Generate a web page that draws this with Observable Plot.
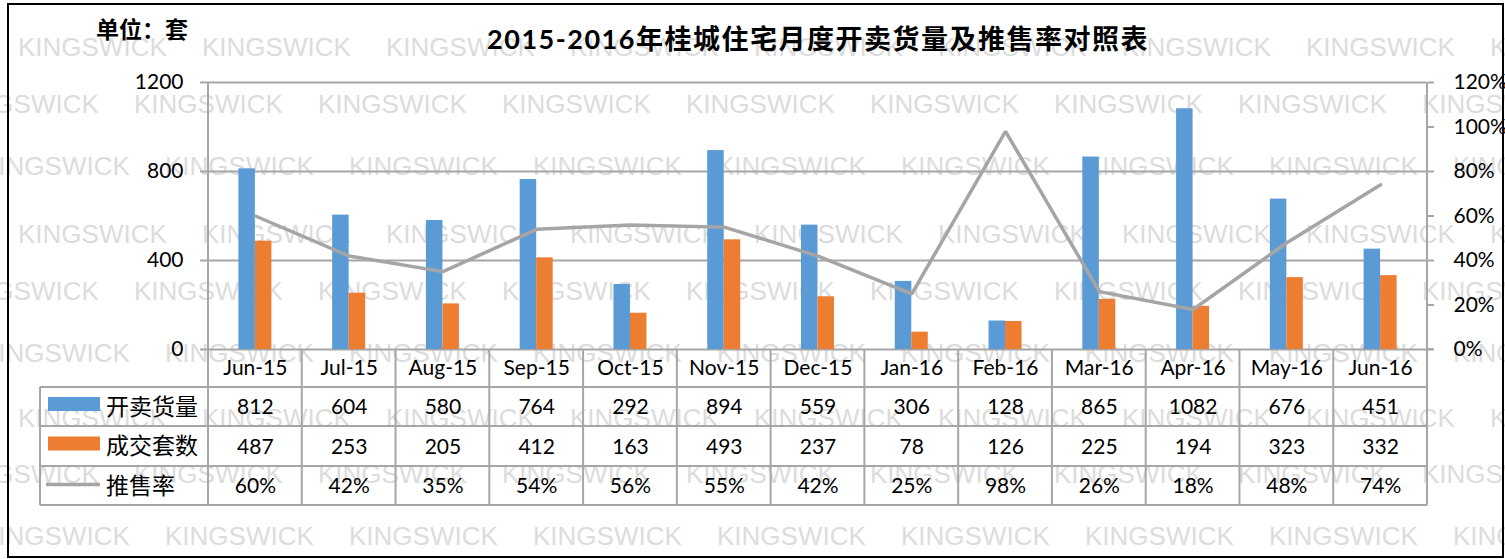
<!DOCTYPE html>
<html><head><meta charset="utf-8">
<script src="https://cdn.jsdelivr.net/npm/d3@7"></script>
<script src="https://cdn.jsdelivr.net/npm/@observablehq/plot@0.6"></script>
<style>
body{margin:0;background:#fff}
#wrap{position:relative;width:1505px;height:559px;overflow:hidden;background:#fff}
</style></head><body><div id="wrap"></div>
<script>
// ---- data ----
const months = ["Jun-15","Jul-15","Aug-15","Sep-15","Oct-15","Nov-15","Dec-15","Jan-16","Feb-16","Mar-16","Apr-16","May-16","Jun-16"];
const supply = [812,604,580,764,292,894,559,306,128,865,1082,676,451];
const deals  = [487,253,205,412,163,493,237,78,126,225,194,323,332];
const rates  = [60,42,35,54,56,55,42,25,98,26,18,48,74]; // percent
const leftTicks = [0,400,800,1200];
const rightTicks = [0,20,40,60,80,100,120]; // percent
const seriesNames = ["开卖货量","成交套数","推售率"];
const titleText = "2015-2016年桂城住宅月度开卖货量及推售率对照表";
const unitText = "单位：套";
const watermarkText = "KINGSWICK";

const colors = {supply:"#5b9bd5", deals:"#ed7d31", rate:"#a5a5a5", grid:"#a6a6a6"};
const rows = months.map((m,i)=>({month:m, supply:supply[i], deals:deals[i], rate:rates[i]}));

// ---- layout ----
const W = 1505, H = 559;
const mL = 208, mR = 78, mT = 82, mB = 210;
const step = (W - mL - mR) / months.length;
const barW = 16.5;
const leftMax = 1200, rightMax = 120;
const toLeft = p => p * leftMax / rightMax;
const tableText = {frameAnchor: "bottom", lineAnchor: "middle", fontSize: 21};

const plot = Plot.plot({
  width: W, height: H,
  marginLeft: mL, marginRight: mR, marginTop: mT, marginBottom: mB,
  style: {fontFamily: "Lato, 'Noto Sans CJK SC', sans-serif", fontSize: "20px", color: "#000", background: "transparent", overflow: "visible"},
  x: {type: "band", domain: months, padding: 0, round: false, axis: null},
  y: {domain: [0, leftMax], axis: null},
  marks: [
    Plot.ruleY(leftTicks, {stroke: colors.grid, strokeWidth: 2}),
    Plot.axisY({anchor: "left", ticks: leftTicks, tickFormat: d => String(d), tickSize: 8, tickPadding: 17, stroke: colors.grid, strokeWidth: 2, fill: "#000", fontSize: 21}),
    Plot.axisY({anchor: "right", ticks: rightTicks.map(toLeft), tickFormat: d => (d * rightMax / leftMax) + "%", tickSize: 6, tickPadding: 20, stroke: colors.grid, strokeWidth: 2, fill: "#000", fontSize: 21}),
    Plot.barY(rows, {x: "month", y: "supply", fill: colors.supply, insetLeft: step/2 - barW, insetRight: step/2}),
    Plot.barY(rows, {x: "month", y: "deals", fill: colors.deals, insetLeft: step/2, insetRight: step/2 - barW}),
    Plot.line(rows, {x: "month", y: d => toLeft(d.rate), stroke: colors.rate, strokeWidth: 3.5, strokeLinejoin: "miter"}),
    // data table text
    Plot.text(months, {x: d => d, text: d => d, dy: 19, ...tableText}),
    Plot.text(rows, {x: "month", text: d => String(d.supply), dy: 58, ...tableText}),
    Plot.text(rows, {x: "month", text: d => String(d.deals), dy: 98, ...tableText}),
    Plot.text(rows, {x: "month", text: d => d.rate + "%", dy: 137, ...tableText})
  ]
});

const svg = d3.select(plot);
const xs = plot.scale("x"), ys = plot.scale("y");
const x0 = xs.range[0], x1 = xs.range[1];
const yTop = ys.apply(leftMax), yBase = ys.apply(0);

// watermark (behind everything)
const wm = svg.insert("g", ":first-child")
  .attr("font-family", "'Liberation Sans', Arial, sans-serif")
  .attr("text-anchor", "start")
  .attr("font-size", 26).attr("fill", "#dcdcdc");
const wmRows = [56,113,175,243,300,362,427,483,545];
const wmOff = [18,-50,-19];
wmRows.forEach((y, r) => {
  for (let x = wmOff[r % 3]; x < W; x += 184) {
    wm.append("text").attr("x", x).attr("y", y).text(watermarkText);
  }
});

// axis lines
const g = svg.append("g").attr("stroke", colors.grid).attr("stroke-width", 2).attr("fill", "none");
g.append("line").attr("x1", x0).attr("x2", x0).attr("y1", yTop).attr("y2", yBase);
g.append("line").attr("x1", x1).attr("x2", x1).attr("y1", yTop).attr("y2", yBase);
g.append("line").attr("x1", x1).attr("x2", x1 + 6).attr("y1", yBase).attr("y2", yBase);

// data table grid
const rowEdges = [yBase + 38, yBase + 77, yBase + 117, yBase + 156];
const tableLeft = 40;
rowEdges.forEach(y => g.append("line").attr("x1", tableLeft).attr("x2", x1).attr("y1", y).attr("y2", y));
months.forEach((m, i) => {
  const x = xs.apply(m);
  g.append("line").attr("x1", x).attr("x2", x).attr("y1", yBase).attr("y2", rowEdges[3]);
});
g.append("line").attr("x1", x1).attr("x2", x1).attr("y1", yBase).attr("y2", rowEdges[3]);
g.append("line").attr("x1", tableLeft).attr("x2", tableLeft).attr("y1", rowEdges[0]).attr("y2", rowEdges[3]);

// legend column
const lg = svg.append("g").attr("text-anchor", "start");
const legendKeys = ["supply","deals","rate"];
legendKeys.forEach((k, i) => {
  const cy = (rowEdges[i] + rowEdges[i+1]) / 2;
  if (k === "rate") {
    lg.append("line").attr("x1", 46).attr("x2", 100).attr("y1", cy - 1).attr("y2", cy - 1)
      .attr("stroke", colors.rate).attr("stroke-width", 3.5);
  } else {
    lg.append("rect").attr("x", 48).attr("y", cy - 9.5).attr("width", 52).attr("height", 14).attr("fill", colors[k]);
  }
  lg.append("text").attr("x", 106).attr("y", cy).attr("dy", "0.36em")
    .attr("font-family", "'Noto Sans CJK SC', sans-serif").attr("font-size", 23)
    .text(seriesNames[i]);
});

// title and unit
svg.append("text").attr("x", 818).attr("y", 40).attr("dy", "0.35em").attr("text-anchor", "middle")
  .attr("font-family", "Lato, 'Noto Sans CJK SC', sans-serif").attr("font-weight", "bold").attr("font-size", 27)
  .attr("letter-spacing", 1.5)
  .text(titleText);
svg.append("text").attr("x", 96).attr("y", 30).attr("dy", "0.35em").attr("text-anchor", "start")
  .attr("font-family", "'Noto Sans CJK SC', sans-serif").attr("font-weight", "bold").attr("font-size", 23)
  .text(unitText);

// outer border
svg.append("rect").attr("x", 8).attr("y", 4).attr("width", 1495).attr("height", 553)
  .attr("fill", "none").attr("stroke", "#000").attr("stroke-width", 2);

document.getElementById("wrap").appendChild(plot);
</script>
</body></html>
